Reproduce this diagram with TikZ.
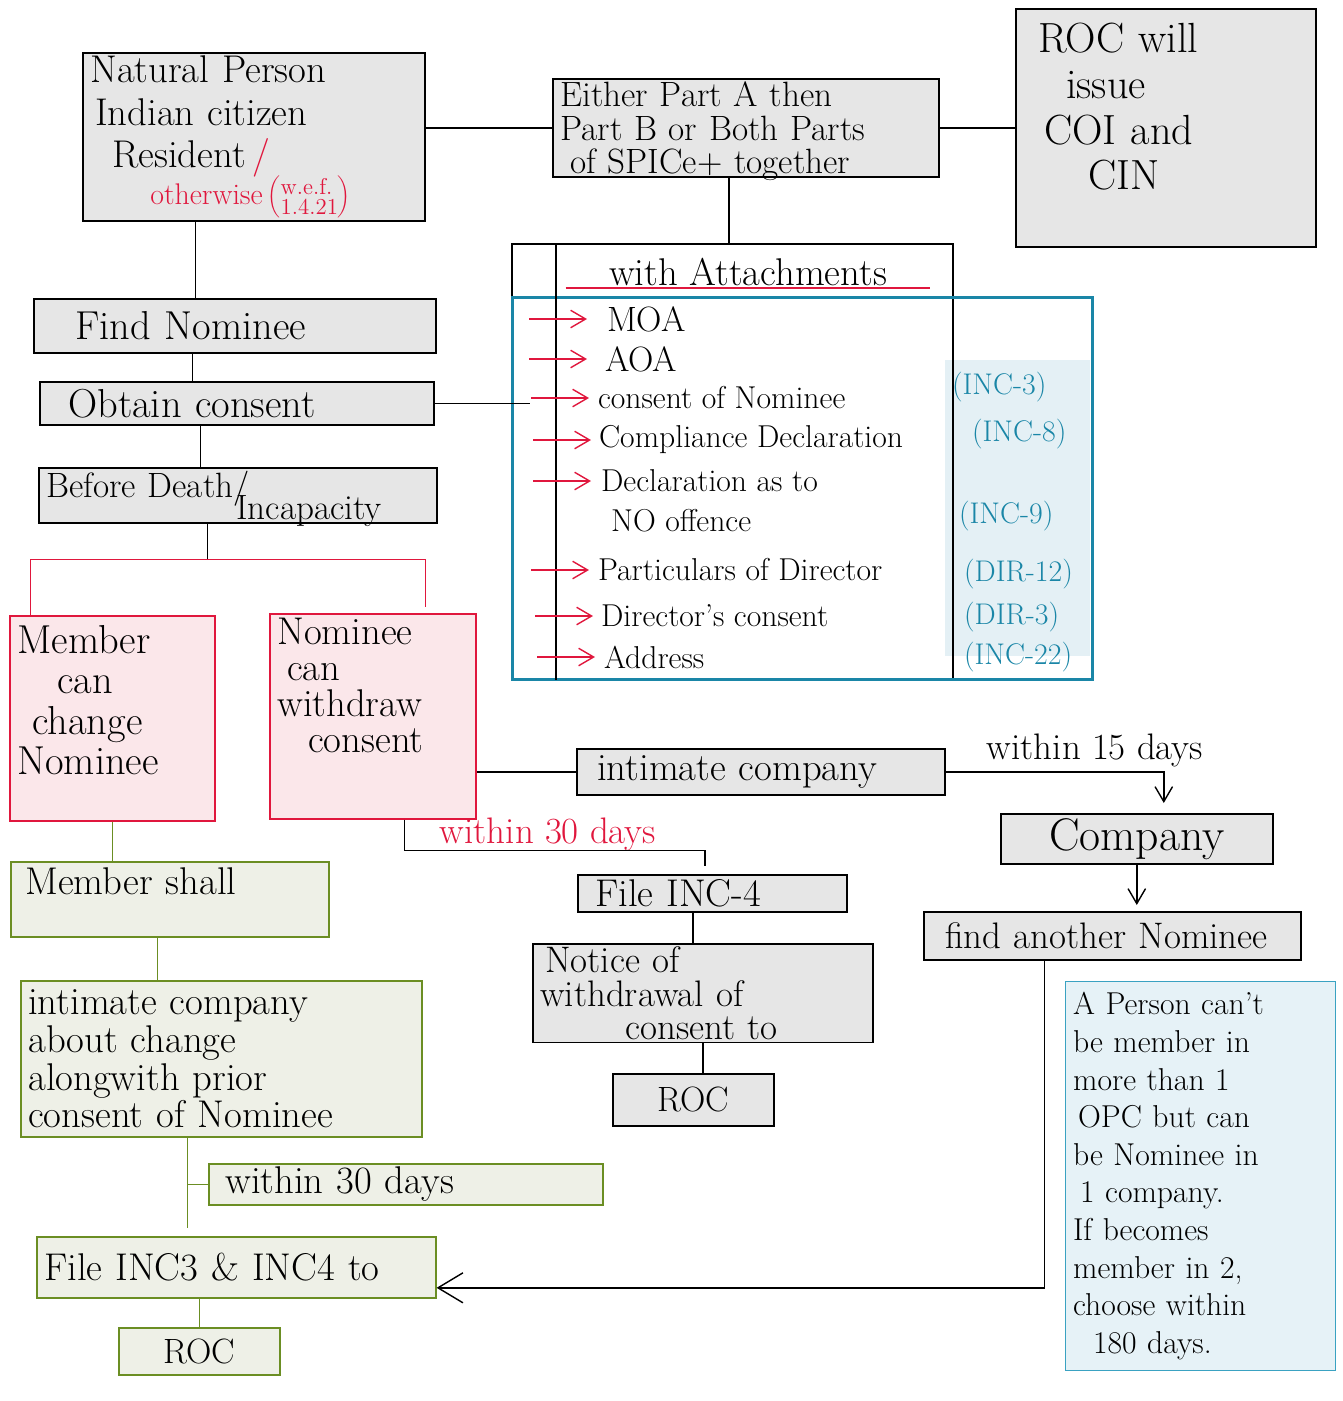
\documentclass[tikz,border=0pt]{standalone}
\usepackage{fontspec}
\usetikzlibrary{calc,arrows.meta}

\definecolor{boxgray}{HTML}{E6E6E6}
\definecolor{redink}{HTML}{E0173D}
\definecolor{pinkfill}{HTML}{FBE7EA}
\definecolor{greenfill}{HTML}{EEF0E7}
\definecolor{greenline}{HTML}{6B8E23}
\definecolor{formteal}{HTML}{1A86A7}
\definecolor{formfill}{HTML}{E4F0F5}
\definecolor{notefill}{HTML}{E6F2F7}
\definecolor{noteline}{HTML}{3AA2C2}

\newcommand{\hand}[2]{\fontsize{#1}{#2}\selectfont\lineskiplimit=-50pt\relax}
\newcommand{\vpad}[1]{\rule[-#1]{0pt}{#1}}

\begin{document}
\begin{tikzpicture}[x=0.2mm, y=-0.2mm,
    >={Straight Barb[length=3mm,width=3.5mm]},
    stepbox/.style={rectangle, draw, line width=0.9pt, align=left, anchor=north west,
      inner xsep=1.5mm, inner ysep=0.6mm, font=\hand{20}{23}},
    greybox/.style={stepbox, fill=boxgray},
    pinkbox/.style={stepbox, draw=redink, fill=pinkfill},
    greenbox/.style={stepbox, draw=greenline, fill=greenfill},
    notebox/.style={stepbox, line width=0.7pt, draw=noteline, fill=notefill},
    frame/.style={draw, anchor=north west, inner sep=0pt},
    item/.style={anchor=west, inner sep=1pt, font=\hand{18}{22}},
    form/.style={anchor=west, inner sep=1pt, text=formteal, font=\hand{17}{20}},
    link/.style={line width=0.8pt},
    redlink/.style={link, draw=redink},
    greenlink/.style={link, draw=greenline}]
  \useasboundingbox (0,0) rectangle (1343,1401);

  % top row
  \node[greybox, text width=65.4mm, minimum height=33.6mm, font=\hand{22}{23}] (person) at (82,52)
    {Natural Person\\[1pt]
     \hspace*{1mm}Indian citizen\\[1pt]
     \hspace*{4.4mm}Resident\,{\color{redink}/}\\[-2pt]
     \hspace*{12mm}{\color{redink}\hand{17}{14}otherwise\,$\left(\vcenter{\hand{13}{11.5}\hbox{w.e.f.}\hbox{1.4.21}}\right)$}};
  \node[greybox, text width=74.2mm, minimum height=19.6mm, text depth=38pt, font=\hand{20}{19}] (spice) at (552,78)
    {Either Part A then\\ Part B or Both Parts\\ \hspace*{2mm}of SPICe+ together};
  \node[greybox, text width=57mm, minimum height=47.6mm, font=\hand{24}{26}] (rocissue) at (1015,8)
    {\hspace*{3mm}ROC will\\ \hspace*{8.6mm}issue\\ \hspace*{4.2mm}COI and\\ \hspace*{13mm}CIN\vpad{24pt}};

  % left column
  \node[greybox, text width=77.4mm, minimum height=10.8mm, font=\hand{23}{25}] (findnom) at (33,298) {\hspace*{6.8mm}Find Nominee};
  \node[greybox, text width=75.8mm, minimum height=8.6mm, font=\hand{23}{25}] (obtain) at (39,381) {\hspace*{4.2mm}Obtain consent};
  \node[greybox, text width=76.6mm, minimum height=10.6mm, text depth=13pt, font=\hand{20}{13}] (death) at (38,467)
    {Before Death/\\ \hspace*{38mm}Incapacity};
  \node[pinkbox, text width=38mm, minimum height=41mm, font=\hand{23}{23}] (member) at (9,615)
    {Member\\ \hspace*{8mm}can\\ \hspace*{3mm}change\\ Nominee\vpad{21pt}};
  \node[pinkbox, text width=38.2mm, minimum height=41mm, font=\hand{22}{20.5}] (withdraw) at (269,613)
    {Nominee\\ \hspace*{2mm}can\\ withdraw\\ \hspace*{6.2mm}consent\vpad{35pt}};
  \node[greenbox, text width=60.6mm, minimum height=15mm, font=\hand{22}{24}] (shall) at (10,861) {\hspace*{1.4mm}Member shall\vpad{21pt}};
  \node[greenbox, text width=77.2mm, minimum height=31.2mm, font=\hand{22}{21.5}] (change) at (20,980)
    {intimate company\\ about change\\ alongwith prior\\ consent of Nominee};
  \node[greenbox, text width=75.8mm, minimum height=8.2mm, font=\hand{22}{24}] (within30g) at (208,1163) {\hspace*{1.8mm}within 30 days};
  \node[greenbox, text width=76.8mm, minimum height=12.2mm, font=\hand{22}{24}] (fileinc) at (36,1236) {File INC3 \& INC4 to};
  \node[greenbox, text width=29.2mm, minimum height=9.4mm, align=center] (rocg) at (118,1327) {ROC};

  % middle column
  \node[greybox, text width=70.6mm, minimum height=9.2mm, font=\hand{22}{24}] (intimate) at (576,748) {\hspace*{2.6mm}intimate company};
  \node[greybox, text width=50.8mm, minimum height=7.4mm, font=\hand{22}{24}] (fileinc4) at (577,874) {\hspace*{2mm}File INC-4};
  \node[greybox, text width=65mm, minimum height=19.6mm, text depth=38pt, font=\hand{21}{19}] (notice) at (532,943)
    {\hspace*{1mm}Notice of\\ withdrawal of\\ \hspace*{17mm}consent to};
  \node[greybox, text width=29.2mm, minimum height=10.4mm, align=center] (rocm) at (612,1073) {ROC};
  \node[text=redink, font=\hand{21}{24}] (days30r) at (548,834) {within 30 days};

  % right column
  \node[greybox, text width=51.4mm, minimum height=10mm, align=center, font=\hand{26}{28}] (company) at (1000,813) {Company};
  \node[greybox, text width=72.4mm, minimum height=9.6mm, font=\hand{21}{24}] (another) at (923,911) {\hspace*{2.8mm}find another Nominee};
  \node[notebox, text width=51mm, minimum height=77.8mm, font=\hand{18}{21.4}] (onlyone) at (1065,981)
    {A Person can't\\ be member in\\ more than 1\\ \hspace*{1mm}OPC but can\\ be Nominee in\\ \hspace*{1.4mm}1 company.\\ If becomes\\ member in 2,\\ choose within\\ \hspace*{4mm}180 days.};
  \node[font=\hand{21}{24}] (days15) at (1095,750) {within 15 days};

  % attachments
  \fill[formfill] (945,360) rectangle (1090,656);
  \node[frame, line width=0.9pt, minimum width=88.2mm, minimum height=87mm] (attach) at (511,243) {};
  \node[frame, draw=formteal, line width=1.6pt, minimum width=116mm, minimum height=76.4mm] (forms) at (511,296) {};
  \draw[link] ($(attach.north west)+(45,0)$) -- ($(attach.south west)+(45,0)$);
  \node[inner sep=1pt, minimum width=72.8mm, anchor=south, font=\hand{22}{24}] (header) at (748,288) {with Attachments};
  \draw[redlink] (header.south west) -- (header.south east);

  \node[item, font=\hand{20}{22}] (moa) at (605,319) {MOA};
  \node[item, font=\hand{20}{22}] (aoa) at (603,359) {AOA};
  \node[item] (nomconsent) at (596,398) {consent of Nominee};
  \node[item] (compliance) at (597,440) {Compliance Declaration};
  \node[item] (declaration) at (599,481) {Declaration as to};
  \node[item] (nooffence) at (609,521) {NO offence};
  \node[item] (particulars) at (596,570) {Particulars of Director};
  \node[item] (dirconsent) at (599,616) {Director's consent};
  \node[item] (address) at (602,657) {Address};

  \node[form] (inc3) at (950,387) {(INC-3)};
  \node[form] (inc8) at (970,434) {(INC-8)};
  \node[form] (inc9) at (957,516) {(INC-9)};
  \node[form] (dir12) at (962,574) {(DIR-12)};
  \node[form] (dir3) at (962,617) {(DIR-3)};
  \node[form] (inc22) at (962,657) {(INC-22)};

  \draw[redlink, ->] ($(moa.west -| attach.west)+(18,0)$) -- ++(58,0);
  \draw[redlink, ->] ($(aoa.west -| attach.west)+(18,0)$) -- ++(58,0);
  \draw[redlink, ->] ($(nomconsent.west -| attach.west)+(20,0)$) -- ++(58,0);
  \draw[redlink, ->] ($(compliance.west -| attach.west)+(22,0)$) -- ++(58,0);
  \draw[redlink, ->] ($(declaration.west -| attach.west)+(22,0)$) -- ++(58,0);
  \draw[redlink, ->] ($(particulars.west -| attach.west)+(20,0)$) -- ++(58,0);
  \draw[redlink, ->] ($(dirconsent.west -| attach.west)+(24,0)$) -- ++(58,0);
  \draw[redlink, ->] ($(address.west -| attach.west)+(26,0)$) -- ++(58,0);

  % connectors
  \draw[link] (person.east |- spice.west) -- (spice.west);
  \draw[link] (spice.east) -- (spice.east -| rocissue.west);
  \draw[link] ([xshift=-3.4mm]spice.south) -- ([xshift=-3.4mm]spice.south |- attach.north);
  \draw[link] ([xshift=-11.6mm]person.south) -- ([xshift=-11.6mm]person.south |- findnom.north);
  \draw[link] ([xshift=-8.4mm]findnom.south) -- ([xshift=-8.4mm]findnom.south |- obtain.north);
  \draw[link] ([xshift=-7.2mm]obtain.south) -- ([xshift=-7.2mm]obtain.south |- death.north);
  \draw[link] (obtain.east) -- ($(obtain.east -| attach.west)+(19,0)$);
  \draw[link] ([xshift=-6mm]death.south) -- ++(0,36) coordinate (fork);
  \draw[redlink] ([xshift=-16.3mm]member.north) |- (fork) -| ([xshift=10.6mm,yshift=1.2mm]withdraw.north);
  \draw[link] (intimate.west) -- (intimate.west -| withdraw.east);
  \draw[link, ->] (intimate.east) -| ([xshift=5.4mm,yshift=2mm]company.north);
  \draw[link, ->] (company.south) -- ([yshift=1.2mm]company.south |- another.north);
  \draw[link, -{Straight Barb[length=5mm,width=6mm]}] ([xshift=-13.6mm]another.south) |- ([yshift=-4.1mm]fileinc.east);
  \draw[link] ([xshift=6.4mm]withdraw.south) -- ++(0,31) -| ([xshift=-1.5mm,yshift=1.6mm]fileinc4.north);
  \draw[link] ([xshift=-3.9mm]fileinc4.south) -- ([xshift=-3.9mm]fileinc4.south |- notice.north);
  \draw[link] (notice.south) -- (notice.south |- rocm.north);
  \draw[greenlink] (member.south) -- (member.south |- shall.north);
  \draw[greenlink] ([xshift=-2.4mm]shall.south) -- ([xshift=-2.4mm]shall.south |- change.north);
  \draw[greenlink] ([xshift=-6.7mm]change.south) -- ([xshift=-6.7mm,yshift=1.6mm]change.south |- fileinc.north);
  \draw[greenlink] (within30g.west) -- ([xshift=-6.7mm]within30g.west -| change.south);
  \draw[greenlink] (rocg.north) -- (rocg.north |- fileinc.south);
\end{tikzpicture}
\end{document}
